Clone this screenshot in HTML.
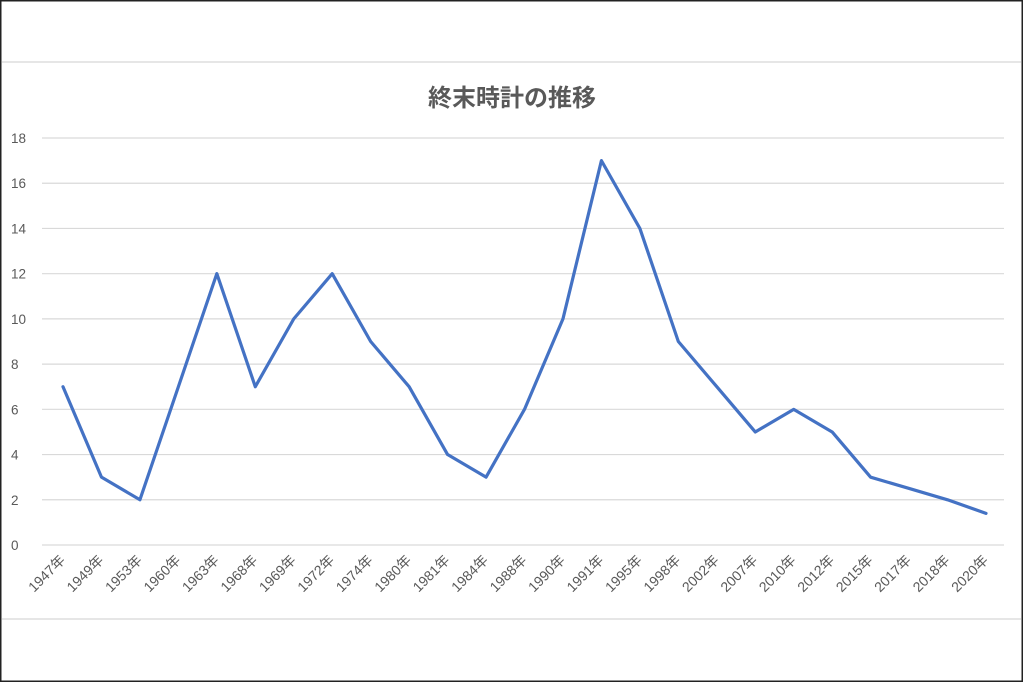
<!DOCTYPE html>
<html><head><meta charset="utf-8"><style>
html,body{margin:0;padding:0;background:#fff;}
svg{display:block;}
text{font-family:"Liberation Sans","Noto Sans CJK JP",sans-serif;fill:#595959;}
</style></head><body>
<svg width="1024" height="683" xmlns="http://www.w3.org/2000/svg">
<rect x="0.75" y="0.75" width="1021.5" height="680.5" fill="#fff" stroke="#222" stroke-width="1.5"/>
<line x1="2" y1="62" x2="1021" y2="62" stroke="#ddd" stroke-width="1.5"/>
<line x1="2" y1="619" x2="1021" y2="619" stroke="#ddd" stroke-width="1.5"/>
<text x="512" y="106" text-anchor="middle" font-size="24" font-weight="bold">終末時計の推移</text>
<g stroke="#d9d9d9" stroke-width="1.2" id="grid"></g>
<g id="ylab" font-size="13.5"></g>
<g id="xlab" font-size="14"></g>
<polyline id="line" fill="none" stroke="#4472c4" stroke-width="3.2" stroke-linejoin="round" stroke-linecap="round"/>
</svg>
<script>
var ns="http://www.w3.org/2000/svg";
var y0=545,u=(545-138)/18;
var g=document.getElementById('grid'),yl=document.getElementById('ylab'),xl=document.getElementById('xlab');
for(var v=0;v<=18;v+=2){var y=y0-v*u;
var l=document.createElementNS(ns,'line');l.setAttribute('x1',42);l.setAttribute('x2',1004);l.setAttribute('y1',y);l.setAttribute('y2',y);g.appendChild(l);
var t=document.createElementNS(ns,'text');t.setAttribute('x',11);t.setAttribute('y',y+5);t.textContent=v;yl.appendChild(t);}
var yrs=[1947,1949,1953,1960,1963,1968,1969,1972,1974,1980,1981,1984,1988,1990,1991,1995,1998,2002,2007,2010,2012,2015,2017,2018,2020];
var vals=[7,3,2,7,12,7,10,12,9,7,4,3,6,10,17,14,9,7,5,6,5,3,2.5,2,1.4];
var pts=[];
for(var i=0;i<yrs.length;i++){var x=63+i*(923/24);pts.push(x+','+(y0-vals[i]*u));
var t=document.createElementNS(ns,'text');t.setAttribute('text-anchor','end');
t.setAttribute('transform','translate('+(x+3)+',561) rotate(-45)');t.textContent=yrs[i]+'年';xl.appendChild(t);}
document.getElementById('line').setAttribute('points',pts.join(' '));
</script>
</body></html>
